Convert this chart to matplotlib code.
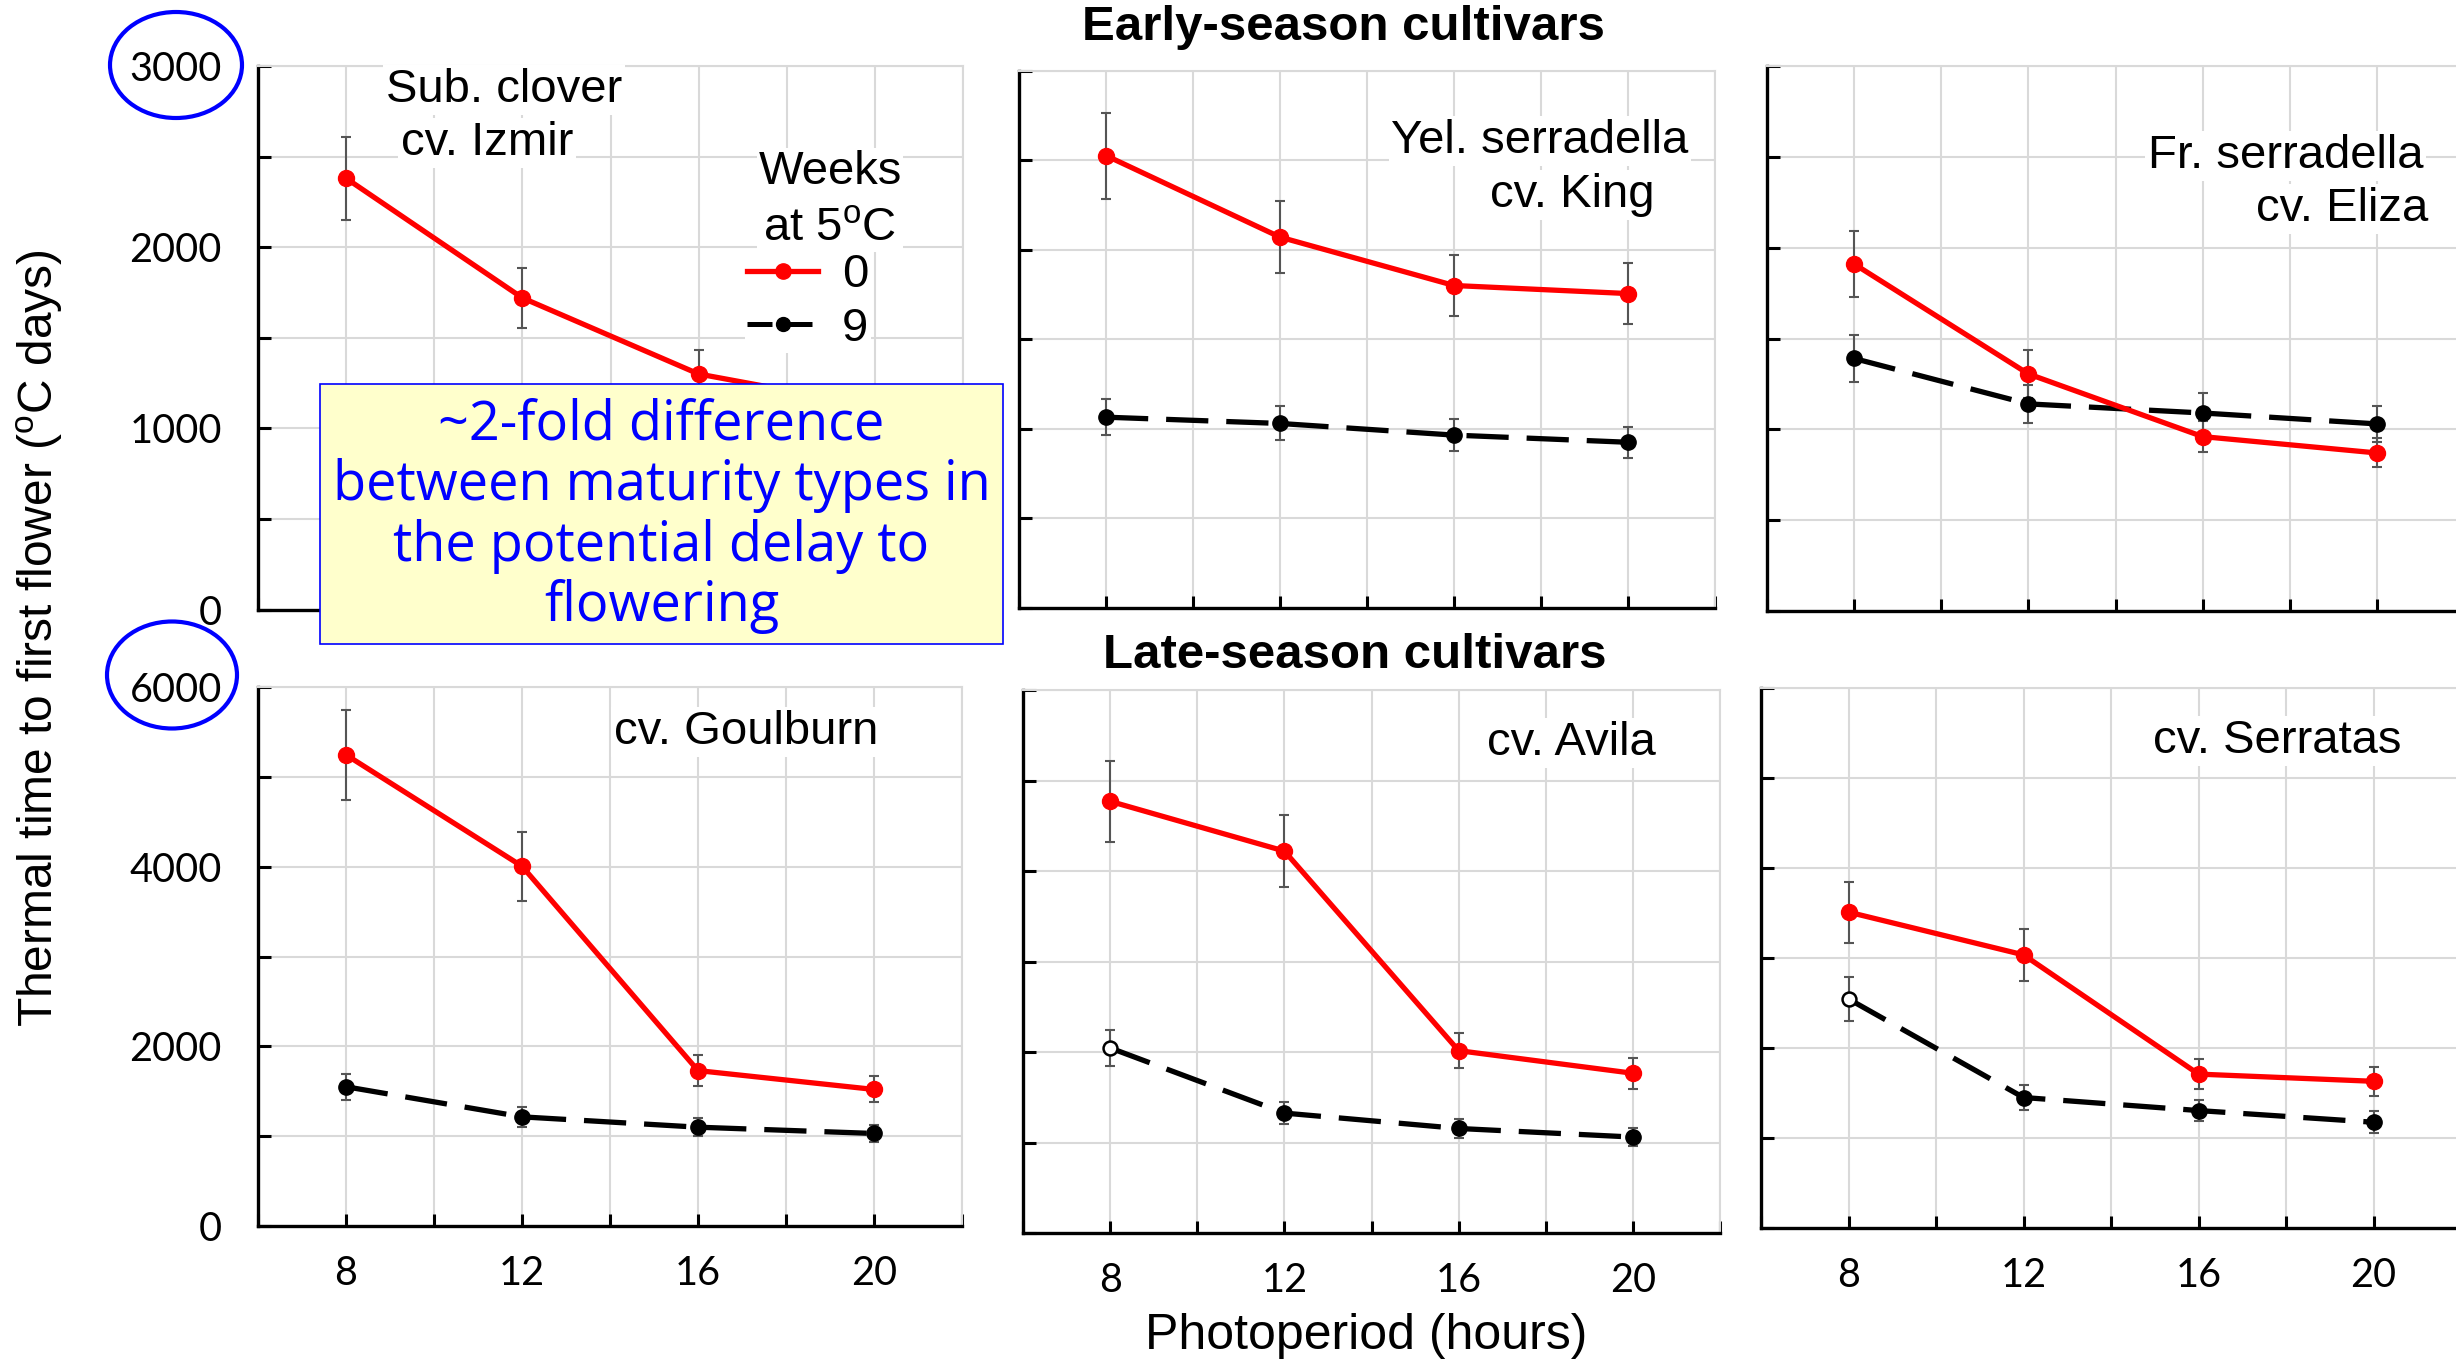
import matplotlib
matplotlib.use("Agg")
import matplotlib.pyplot as plt
from matplotlib.lines import Line2D
from matplotlib.patches import Ellipse, Rectangle
from matplotlib.ticker import MultipleLocator, FixedLocator

plt.rcParams['font.family'] = ['Liberation Sans', 'DejaVu Sans']
plt.rcParams['mathtext.fontset'] = 'custom'
plt.rcParams['mathtext.rm'] = 'Liberation Sans'

W, H = 2456, 1363

photoperiod = [8, 12, 16, 20]

# early-season cultivars, thermal time (oC days), 0 and 9 weeks at 5oC
izmir_0 = [2380, 1720, 1300, 1120]
izmir_0_err = [230, 165, 130, 110]
izmir_9 = [880, 800, 760, 740]      # sits under the note box
izmir_9_err = [90, 80, 75, 70]
king_0 = [2525, 2070, 1800, 1755]
king_0_err = [240, 200, 170, 170]
king_9 = [1065, 1030, 965, 925]
king_9_err = [100, 95, 90, 88]
eliza_0 = [1910, 1305, 960, 870]
eliza_0_err = [180, 130, 85, 80]
eliza_9 = [1390, 1140, 1090, 1030]
eliza_9_err = [130, 105, 110, 100]

# late-season cultivars
goulburn_0 = [5245, 4005, 1730, 1520]
goulburn_0_err = [500, 385, 170, 145]
goulburn_9 = [1550, 1215, 1100, 1030]
goulburn_9_err = [145, 115, 100, 95]
avila_0 = [4770, 4220, 2015, 1765]
avila_0_err = [450, 400, 190, 170]
avila_9 = [2045, 1325, 1155, 1060]
avila_9_err = [195, 120, 110, 100]
serratas_0 = [3510, 3035, 1710, 1630]
serratas_0_err = [340, 290, 165, 160]
serratas_9 = [2545, 1450, 1305, 1175]
serratas_9_err = [240, 135, 120, 120]

DASH = (0, (8, 3.4))

fig = plt.figure(figsize=(W / 100, H / 100), dpi=100)


def px_axes(l, t, r, b):
    return fig.add_axes([l / W, 1 - b / H, (r - l) / W, (b - t) / H])


def fx(x):
    return x / W


def fy(y):
    return 1 - y / H


def draw_panel(ax, y0, e0, y9, e9, ymax, step, open_first=False,
               ylabels=False, xlabels=False):
    ax.set_xlim(6, 22)
    ax.set_ylim(0, ymax)
    ax.xaxis.set_major_locator(FixedLocator(photoperiod))
    ax.xaxis.set_minor_locator(FixedLocator([6, 10, 14, 18, 22]))
    ax.yaxis.set_major_locator(MultipleLocator(step))
    ax.yaxis.set_minor_locator(MultipleLocator(step / 2))
    ax.set_axisbelow(True)
    ax.grid(True, which='both', color='#d9d9d9', lw=1.5)
    for s in ['top', 'right']:
        ax.spines[s].set_color('#d9d9d9')
        ax.spines[s].set_linewidth(1.5)
    for s in ['left', 'bottom']:
        ax.spines[s].set_color('black')
        ax.spines[s].set_linewidth(2.4)
    ax.tick_params(which='both', direction='in', length=9, width=2.2,
                   color='black', labelsize=28.5, labelfontfamily='Lato')
    ax.tick_params(axis='y', pad=26, labelleft=ylabels)
    ax.tick_params(axis='x', pad=21, labelbottom=xlabels)

    ax.errorbar(photoperiod, y0, yerr=e0, fmt='none', ecolor='#555555',
                elinewidth=1.5, capsize=3.6, capthick=1.5, zorder=2)
    ax.errorbar(photoperiod, y9, yerr=e9, fmt='none', ecolor='#555555',
                elinewidth=1.5, capsize=3.6, capthick=1.5, zorder=2)
    ax.plot(photoperiod, y9, color='black', lw=3.8, ls=DASH, zorder=3)
    if open_first:
        ax.plot(photoperiod[1:], y9[1:], 'o', color='black', ms=11, zorder=4)
        ax.plot(photoperiod[:1], y9[:1], 'o', mfc='white', mec='black',
                mew=1.8, ms=10, zorder=4)
    else:
        ax.plot(photoperiod, y9, 'o', color='black', ms=11, zorder=4)
    ax.plot(photoperiod, y0, color='red', lw=3.8, marker='o', ms=11.5, zorder=5)


ax1 = px_axes(258, 66, 963, 609.5)
ax2 = px_axes(1019, 70.5, 1715, 608)
ax3 = px_axes(1767, 66, 2464, 611)
ax4 = px_axes(258, 687, 962, 1226)
ax5 = px_axes(1023, 690, 1720, 1233)
ax6 = px_axes(1761, 688, 2461, 1228)

draw_panel(ax1, izmir_0, izmir_0_err, izmir_9, izmir_9_err, 3000, 1000, ylabels=True)
draw_panel(ax2, king_0, king_0_err, king_9, king_9_err, 3000, 1000)
draw_panel(ax3, eliza_0, eliza_0_err, eliza_9, eliza_9_err, 3000, 1000)
draw_panel(ax4, goulburn_0, goulburn_0_err, goulburn_9, goulburn_9_err, 6000, 2000,
           ylabels=True, xlabels=True)
draw_panel(ax5, avila_0, avila_0_err, avila_9, avila_9_err, 6000, 2000,
           open_first=True, xlabels=True)
draw_panel(ax6, serratas_0, serratas_0_err, serratas_9, serratas_9_err, 6000, 2000,
           open_first=True, xlabels=True)

# legend (title written separately so it can sit tight on the entries)
h0 = Line2D([], [], color='red', lw=3.8, marker='o', ms=11)
h9 = Line2D([], [], color='black', lw=3.6, ls=(0, (5, 3)), marker='o', ms=10)
ax1.legend([h0, h9], ['0', '9'],
           loc='upper left', bbox_to_anchor=(fx(745), fy(251)),
           bbox_transform=fig.transFigure, fontsize=34,
           frameon=True, facecolor='white', edgecolor='none', framealpha=1,
           fancybox=False, handlelength=1.5, handletextpad=0.5,
           labelspacing=0.2, borderpad=0.05, borderaxespad=0)
ax1.text(fx(830), fy(200), 'Weeks\nat 5$^\\mathrm{o}$C', ha='center', va='center',
         fontsize=34, linespacing=1.36, transform=fig.transFigure, zorder=4.5,
         bbox=dict(fc='white', ec='none', pad=1))

# panel names
lab = dict(fontsize=34, va='baseline', bbox=dict(fc='white', ec='none', pad=2))
fig.text(fx(504), fy(102), 'Sub. clover', ha='center', **lab)
fig.text(fx(487), fy(155), 'cv. Izmir', ha='center', **lab)
fig.text(fx(1540), fy(153), 'Yel. serradella', ha='center', **lab)
fig.text(fx(1572), fy(207), 'cv. King', ha='center', **lab)
fig.text(fx(2423), fy(168), 'Fr. serradella', ha='right', **lab)
fig.text(fx(2428), fy(221), 'cv. Eliza', ha='right', **lab)
fig.text(fx(746), fy(744), 'cv. Goulburn', ha='center', **lab)
fig.text(fx(1571), fy(755), 'cv. Avila', ha='center', **lab)
fig.text(fx(2277), fy(753), 'cv. Serratas', ha='center', **lab)

fig.text(fx(1343), fy(28), 'Early-season cultivars', ha='center', va='center',
         fontsize=35.5, fontweight='bold')
fig.text(fx(1355), fy(655), 'Late-season cultivars', ha='center', va='center',
         fontsize=35.5, fontweight='bold')
fig.text(fx(40), fy(638), 'Thermal time to first flower ($^\\mathrm{o}$C days)',
         rotation=90, ha='center', va='center', fontsize=34.5)
fig.text(fx(1366), fy(1336), 'Photoperiod (hours)', ha='center', va='center',
         fontsize=36)

# highlight circles on the axis maxima
fig.add_artist(Ellipse((fx(176), fy(65)), 132 / W, 106 / H, transform=fig.transFigure,
                       fill=False, ec='#0000ff', lw=3, zorder=10))
fig.add_artist(Ellipse((fx(172), fy(675)), 130 / W, 107 / H, transform=fig.transFigure,
                       fill=False, ec='#0000ff', lw=3, zorder=10))

# note box
fig.add_artist(Rectangle((fx(320), fy(644)), 683 / W, 260 / H, transform=fig.transFigure,
                         fc='#ffffcc', ec='#0000ff', lw=1.2, zorder=10))
fig.text(fx(661.5), fy(516),
         '~2-fold difference\nbetween maturity types in\nthe potential delay to\nflowering',
         ha='center', va='center', color='#0000ff', fontsize=39, family='Open Sans',
         linespacing=1.13, zorder=11)

fig.savefig('out.png', dpi=100)
